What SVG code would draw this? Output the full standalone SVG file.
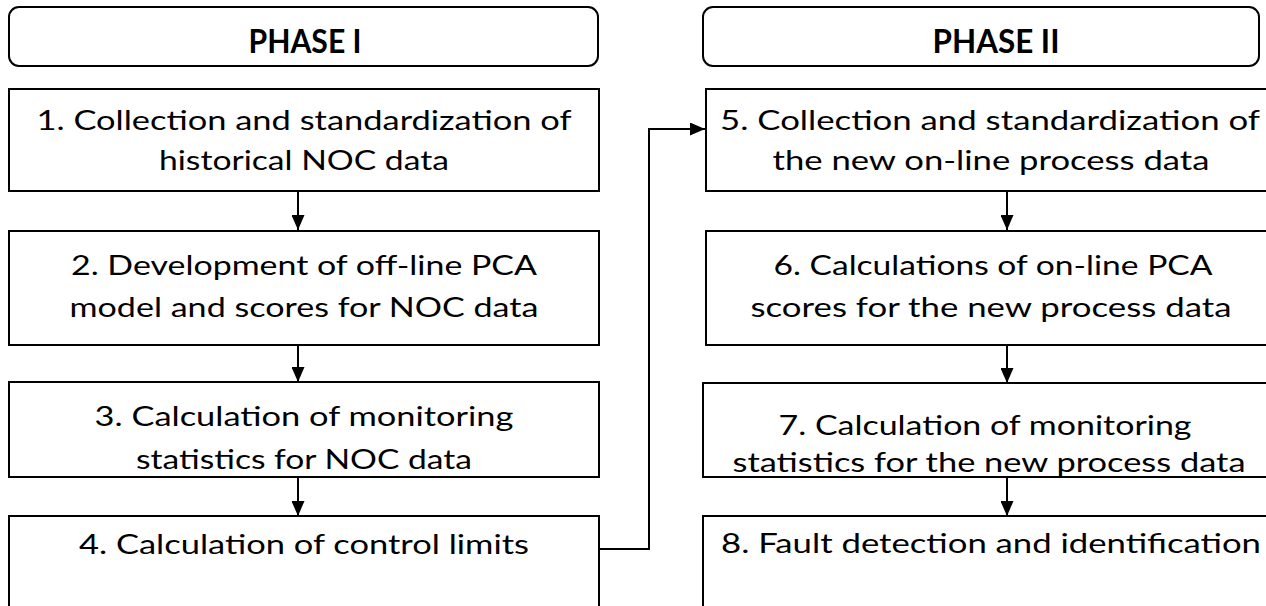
<svg xmlns="http://www.w3.org/2000/svg" width="1266" height="606" viewBox="0 0 1266 606">
<defs>
<style>
.hdr{fill:#fff;stroke:#000;stroke-width:2}
.box{fill:#fff;stroke:#000;stroke-width:2}
.t{font-family:Lato,"Liberation Sans",sans-serif;font-size:27px;fill:#000;text-anchor:middle}
.h{font-family:Lato,"Liberation Sans",sans-serif;font-size:33px;font-weight:bold;fill:#000;text-anchor:middle}
.c{fill:none;stroke:#000;stroke-width:2}
</style>
<marker id="ah" viewBox="0 0 15 13" markerWidth="15" markerHeight="13" refX="15" refY="6.5" orient="auto" markerUnits="userSpaceOnUse">
<path d="M0,0 L15,6.5 L0,13 z" fill="#000"/>
</marker>
</defs>
<rect width="1266" height="606" fill="#fff"/>
<g id="phase1">
<rect class="hdr" x="9" y="7" width="589" height="59" rx="10"/>
<text class="h" x="305" y="53" textLength="113" lengthAdjust="spacingAndGlyphs">PHASE I</text>
</g>
<g id="phase2">
<rect class="hdr" x="703" y="7" width="556" height="59" rx="10"/>
<text class="h" x="996" y="53" textLength="127" lengthAdjust="spacingAndGlyphs">PHASE II</text>
</g>
<g id="connectors">
<line class="c" x1="298" y1="191" x2="298" y2="230" marker-end="url(#ah)"/>
<line class="c" x1="298" y1="345" x2="298" y2="382" marker-end="url(#ah)"/>
<line class="c" x1="298" y1="477" x2="298" y2="516" marker-end="url(#ah)"/>
<path class="c" d="M599,549 H649 V129 H705" marker-end="url(#ah)"/>
<line class="c" x1="1007" y1="191" x2="1007" y2="230" marker-end="url(#ah)"/>
<line class="c" x1="1007" y1="345" x2="1007" y2="383" marker-end="url(#ah)"/>
<line class="c" x1="1007" y1="477" x2="1007" y2="516" marker-end="url(#ah)"/>
</g>
<g id="n1">
<rect class="box" x="9" y="89" width="590" height="102"/>
<text class="t" x="304" y="130" textLength="535" lengthAdjust="spacingAndGlyphs">1. Collection and standardization of</text>
<text class="t" x="304" y="170" textLength="290" lengthAdjust="spacingAndGlyphs">historical NOC data</text>
</g>
<g id="n2">
<rect class="box" x="9" y="231" width="590" height="114"/>
<text class="t" x="304" y="275" textLength="466" lengthAdjust="spacingAndGlyphs">2. Development of off-line PCA</text>
<text class="t" x="304" y="317" textLength="469" lengthAdjust="spacingAndGlyphs">model and scores for NOC data</text>
</g>
<g id="n3">
<rect class="box" x="9" y="382" width="590" height="95"/>
<text class="t" x="304" y="426" textLength="419" lengthAdjust="spacingAndGlyphs">3. Calculation of monitoring</text>
<text class="t" x="304" y="469" textLength="336" lengthAdjust="spacingAndGlyphs">statistics for NOC data</text>
</g>
<g id="n4">
<rect class="box" x="9" y="516" width="590" height="110"/>
<text class="t" x="304" y="554" textLength="450" lengthAdjust="spacingAndGlyphs">4. Calculation of control limits</text>
</g>
<g id="n5">
<rect class="box" x="706" y="89" width="600" height="102"/>
<text class="t" x="990" y="130" textLength="540" lengthAdjust="spacingAndGlyphs">5. Collection and standardization of</text>
<text class="t" x="991" y="170" textLength="437" lengthAdjust="spacingAndGlyphs">the new on-line process data</text>
</g>
<g id="n6">
<rect class="box" x="706" y="231" width="600" height="114"/>
<text class="t" x="993" y="275" textLength="439" lengthAdjust="spacingAndGlyphs">6. Calculations of on-line PCA</text>
<text class="t" x="991" y="317" textLength="481" lengthAdjust="spacingAndGlyphs">scores for the new process data</text>
</g>
<g id="n7">
<rect class="box" x="703" y="383" width="600" height="94"/>
<text class="t" x="985" y="435" textLength="413" lengthAdjust="spacingAndGlyphs">7. Calculation of monitoring</text>
<text class="t" x="989" y="472" textLength="513" lengthAdjust="spacingAndGlyphs">statistics for the new process data</text>
</g>
<g id="n8">
<rect class="box" x="703" y="516" width="600" height="110"/>
<text class="t" x="991" y="553" textLength="540" lengthAdjust="spacingAndGlyphs">8. Fault detection and identification</text>
</g>
</svg>
